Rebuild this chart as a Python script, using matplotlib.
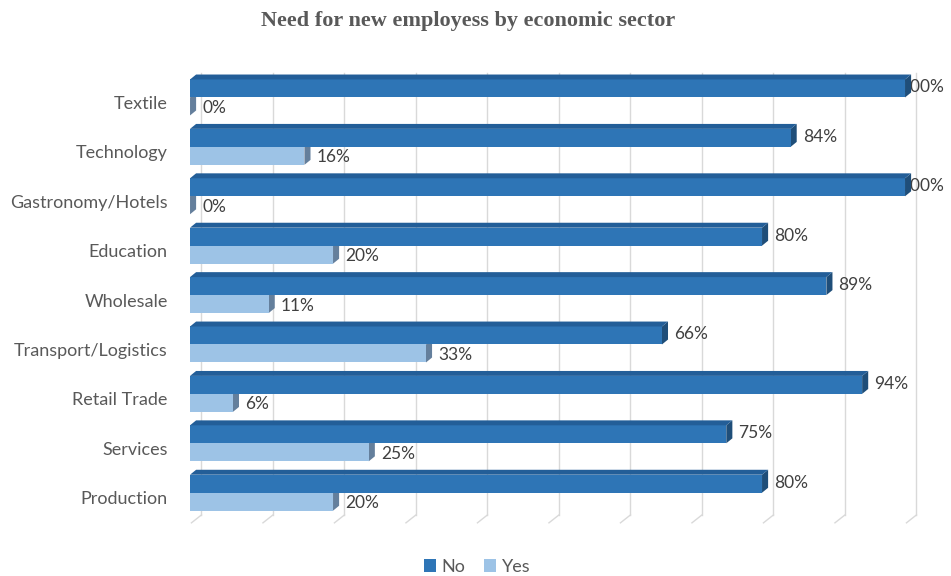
import matplotlib
matplotlib.use("Agg")
import matplotlib.pyplot as plt
from matplotlib.patches import Polygon, Patch

# data (bottom to top)
sectores = ["Production", "Services", "Retail Trade", "Transport/Logistics",
            "Wholesale", "Education", "Gastronomy/Hotels", "Technology", "Textile"]
no_vals = [80, 75, 94, 66, 89, 80, 100, 84, 100]
yes_vals = [20, 25, 6, 33, 11, 20, 0, 16, 0]

c_no = "#2E75B6"; c_no_top = "#235E98"; c_no_side = "#1F4E79"
c_yes = "#9DC3E6"; c_yes_side = "#647F9C"
gris = "#D9D9D9"

h = 0.364      # altura de la cara frontal
dx = 0.85      # profundidad en x
dy = 0.10      # profundidad en y

fig = plt.figure(figsize=(9.51, 5.76), dpi=100)
ax = fig.add_axes([0.1923, 0.0803, 0.7744, 0.7977])
ax.set_xlim(-1, 102)
ax.set_ylim(-0.75, 8.55)

# rejilla con el pie inclinado
for g in range(0, 101, 10):
    ax.plot([g + 1.6, g + 1.6], [-0.45, 8.5], color=gris, lw=1, zorder=0)
    ax.plot([g + 0.2, g + 1.6], [-0.61, -0.45], color=gris, lw=1, zorder=0)

def barra(y0, v, cf, ct, cs, top=True):
    ax.add_patch(plt.Rectangle((0, y0), v, h, facecolor=cf, edgecolor="none", zorder=3))
    if top:
        ax.add_patch(Polygon([(0, y0 + h), (v, y0 + h), (v + dx, y0 + h + dy), (dx, y0 + h + dy)],
                             closed=True, facecolor=ct, edgecolor="none", zorder=3))
    ax.add_patch(Polygon([(v, y0), (v, y0 + h), (v + dx, y0 + h + dy), (v + dx, y0 + dy)],
                         closed=True, facecolor=cs, edgecolor="none", zorder=2.9))

for i in range(len(sectores)):
    barra(i, no_vals[i], c_no, c_no_top, c_no_side)
    barra(i - h, yes_vals[i], c_yes, c_yes, c_yes_side, top=False)
    xn = min(no_vals[i] + 1.7, 99.4)
    ax.text(xn, i + h / 2 + 0.02, f"{no_vals[i]}%", va="center", ha="left",
            fontsize=12.5, color="#404040", family="Lato", zorder=2)
    ax.text(yes_vals[i] + 1.7, i - h / 2 - 0.03, f"{yes_vals[i]}%", va="center", ha="left",
            fontsize=12.5, color="#404040", family="Lato", zorder=2)

ax.set_yticks([i - 0.1 for i in range(len(sectores))])
ax.set_yticklabels(sectores, fontsize=13, color="#595959", family="Lato")
ax.tick_params(axis="y", length=0, pad=11)
ax.set_xticks([])
for s in ax.spines.values():
    s.set_visible(False)
ax.patch.set_alpha(0)

fig.text(0.4926, 0.963, "Need for new employess by economic sector", ha="center", va="center",
         fontsize=16, fontweight="bold", family="Liberation Serif", color="#595959")

handles = [Patch(facecolor=c_no, label="No"), Patch(facecolor=c_yes, label="Yes")]
fig.legend(handles=handles, loc="center", bbox_to_anchor=(0.5016, 0.0156), ncol=2,
           frameon=False, handlelength=0.7, handleheight=0.7, handletextpad=0.3,
           columnspacing=1.0, prop={"family": "Lato", "size": 13}, labelcolor="#595959")

fig.savefig("out.png", dpi=100)
